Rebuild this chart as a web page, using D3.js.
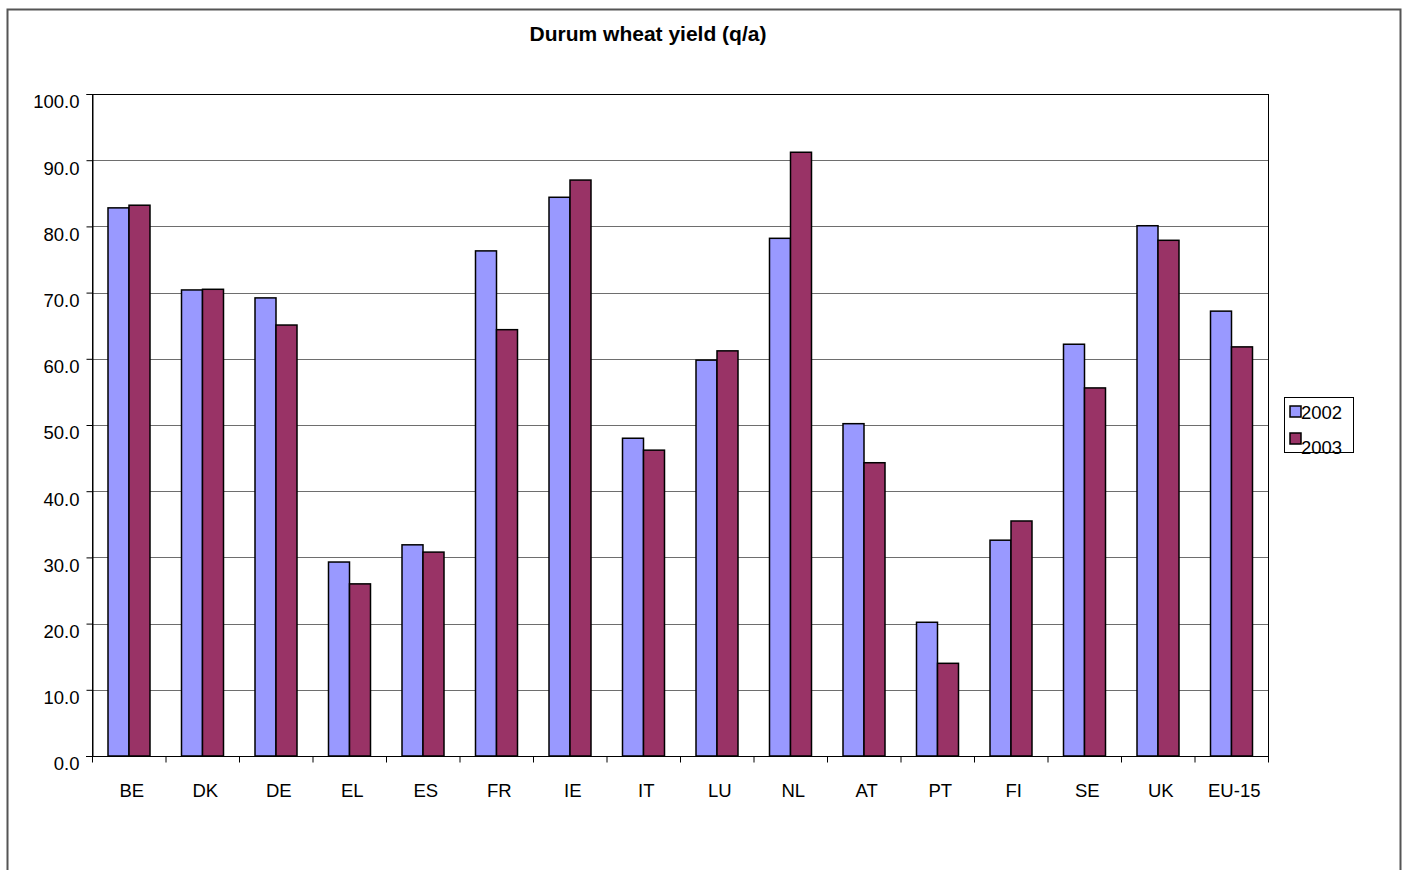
<!DOCTYPE html>
<html>
<head>
<meta charset="utf-8">
<script src="https://cdn.jsdelivr.net/npm/d3@7"></script>
<style>
  body { margin: 0; background: #fff; }
  svg text { font-family: 'Liberation Sans', Arial, sans-serif; fill: #000; }
</style>
</head>
<body>
<svg id="chart" width="1405" height="870"></svg>
<script>
// data
const countries = ['BE', 'DK', 'DE', 'EL', 'ES', 'FR', 'IE', 'IT', 'LU', 'NL', 'AT', 'PT', 'FI', 'SE', 'UK', 'EU-15'];
const years = ['2002', '2003'];
const yield2002 = [82.8, 70.4, 69.2, 29.3, 31.9, 76.3, 84.4, 48.0, 59.8, 78.2, 50.2, 20.2, 32.6, 62.2, 80.1, 67.2];
const yield2003 = [83.2, 70.5, 65.1, 26.0, 30.8, 64.4, 87.0, 46.2, 61.2, 91.2, 44.3, 14.0, 35.5, 55.6, 77.9, 61.8];
const yTicks = [0, 10, 20, 30, 40, 50, 60, 70, 80, 90, 100];
const colors = ['#9999ff', '#993366'];

const svg = d3.select('#chart');

// plot area
const plotLeft = 92, plotRight = 1268, plotTop = 94, plotBottom = 756;
const fontSize = '18.5px';

// outer chart frame (bottom edge runs off the page)
svg.append('rect')
  .attr('x', 7.5).attr('y', 9.5)
  .attr('width', 1393).attr('height', 900)
  .attr('fill', '#fff')
  .attr('stroke', '#555')
  .attr('stroke-width', 2);

svg.append('text')
  .attr('x', 648).attr('y', 41)
  .attr('text-anchor', 'middle')
  .style('font-size', '21px')
  .style('font-weight', 'bold')
  .text('Durum wheat yield (q/a)');

const x0 = d3.scaleBand().domain(countries).range([plotLeft, plotRight]).paddingInner(0).paddingOuter(0);
const x1 = d3.scaleBand().domain(years).range([16, 58]);
const y = d3.scaleLinear().domain([0, 100]).range([plotBottom, plotTop]);

// gridlines
svg.append('g')
  .selectAll('line')
  .data(yTicks.filter((t) => t > 0 && t < 100))
  .join('line')
  .attr('x1', plotLeft).attr('x2', plotRight)
  .attr('y1', (d) => Math.round(y(d)) + 0.5)
  .attr('y2', (d) => Math.round(y(d)) + 0.5)
  .attr('stroke', '#6e6e6e')
  .attr('stroke-width', 1);

// plot frame
svg.append('rect')
  .attr('x', plotLeft + 0.5).attr('y', plotTop + 0.5)
  .attr('width', plotRight - plotLeft).attr('height', plotBottom - plotTop)
  .attr('fill', 'none')
  .attr('stroke', '#000')
  .attr('stroke-width', 1);

// bars
const rows = countries.map((c, i) => ({ country: c, values: [yield2002[i], yield2003[i]] }));
const groups = svg.append('g')
  .selectAll('g')
  .data(rows)
  .join('g')
  .attr('transform', (d) => `translate(${x0(d.country)},0)`);

groups.selectAll('rect')
  .data((d) => d.values.map((v, j) => ({ year: years[j], v: v, j: j })))
  .join('rect')
  .attr('x', (d) => x1(d.year))
  .attr('y', (d) => y(d.v))
  .attr('width', x1.bandwidth())
  .attr('height', (d) => plotBottom - y(d.v))
  .attr('fill', (d) => colors[d.j])
  .attr('stroke', '#000')
  .attr('stroke-width', 1.5);

// y axis (labels sit a little below their ticks, as in the original)
const yAxis = d3.axisLeft(y).tickValues(yTicks).tickFormat(d3.format('.1f')).tickSize(6).tickPadding(7);
const gy = svg.append('g')
  .attr('transform', `translate(${plotLeft + 0.5},0)`)
  .call(yAxis);
gy.select('.domain').attr('stroke', '#000');
gy.selectAll('.tick line').attr('stroke', '#000');
gy.selectAll('.tick text')
  .style('font-size', fontSize)
  .style('font-family', "'Liberation Sans', Arial, sans-serif")
  .attr('y', 7.5)
  .attr('dy', '0.35em');

// x axis: ticks sit on band edges
const gx = svg.append('g').attr('transform', `translate(0,${plotBottom + 0.5})`);
gx.append('line')
  .attr('x1', plotLeft - 6).attr('x2', plotRight)
  .attr('stroke', '#000');
gx.selectAll('.xt')
  .data(countries.map((c) => x0(c)).concat([plotRight]))
  .join('line')
  .attr('class', 'xt')
  .attr('x1', (d) => d + 0.5).attr('x2', (d) => d + 0.5)
  .attr('y1', 0).attr('y2', 6)
  .attr('stroke', '#000');
gx.selectAll('text')
  .data(countries)
  .join('text')
  .attr('x', (d) => x0(d) + x0.bandwidth() / 2 + 3)
  .attr('y', 40)
  .attr('text-anchor', 'middle')
  .style('font-size', fontSize)
  .text((d) => d);

// legend
const legend = svg.append('g').attr('transform', 'translate(1284,397)');
legend.append('rect')
  .attr('x', 0.5).attr('y', 0.5)
  .attr('width', 69).attr('height', 55)
  .attr('fill', '#fff')
  .attr('stroke', '#000')
  .attr('stroke-width', 1);
legend.selectAll('.sw')
  .data(years)
  .join('rect')
  .attr('class', 'sw')
  .attr('x', 6).attr('y', (d, i) => 9 + i * 27)
  .attr('width', 11).attr('height', 11)
  .attr('fill', (d, i) => colors[i])
  .attr('stroke', '#000')
  .attr('stroke-width', 1.5);
legend.selectAll('.lt')
  .data(years)
  .join('text')
  .attr('class', 'lt')
  .attr('x', 17).attr('y', (d, i) => 22 + i * 35)
  .style('font-size', fontSize)
  .text((d) => d);
</script>
</body>
</html>
